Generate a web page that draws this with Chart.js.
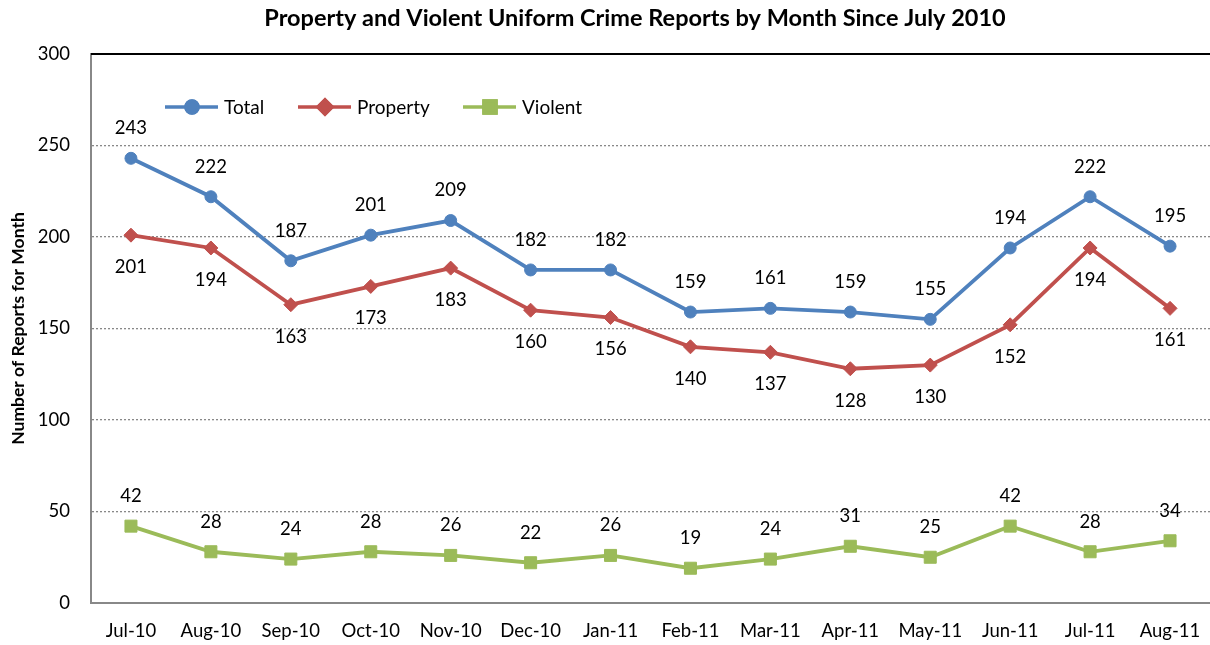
<!DOCTYPE html>
<html>
<head>
<meta charset="utf-8">
<script src="https://cdn.jsdelivr.net/npm/chart.js@4/dist/chart.umd.min.js"></script>
<style>
  body { margin: 0; background: #fff; overflow: hidden; }
  #wrap { width: 1210px; height: 645px; }
</style>
</head>
<body>
<div id="wrap"><canvas id="crime" width="1210" height="645"></canvas></div>
<script>
const months = ["Jul-10", "Aug-10", "Sep-10", "Oct-10", "Nov-10", "Dec-10", "Jan-11",
  "Feb-11", "Mar-11", "Apr-11", "May-11", "Jun-11", "Jul-11", "Aug-11"];
const totalReports = [243, 222, 187, 201, 209, 182, 182, 159, 161, 159, 155, 194, 222, 195];
const propertyReports = [201, 194, 163, 173, 183, 160, 156, 140, 137, 128, 130, 152, 194, 161];
const violentReports = [42, 28, 24, 28, 26, 22, 26, 19, 24, 31, 25, 42, 28, 34];

const chartTitle = "Property and Violent Uniform Crime Reports by Month Since July 2010";
const yTitle = "Number of Reports for Month";
const FONT = "Lato, 'Open Sans', sans-serif";

// labels above or below each line
const labelOffset = { Total: -30, Property: 32, Violent: -30 };

const extras = {
  id: "extras",
  afterDatasetsDraw(chart) {
    const ctx = chart.ctx;
    const area = chart.chartArea;
    ctx.save();

    // top border of plot
    ctx.strokeStyle = "#000";
    ctx.lineWidth = 2;
    ctx.beginPath();
    ctx.moveTo(area.left, area.top);
    ctx.lineTo(chart.width, area.top);
    ctx.stroke();

    // value labels
    ctx.fillStyle = "#000";
    ctx.font = "18.5px " + FONT;
    ctx.textAlign = "center";
    ctx.textBaseline = "middle";
    chart.data.datasets.forEach((ds, i) => {
      const meta = chart.getDatasetMeta(i);
      meta.data.forEach((pt, j) => {
        ctx.fillText(String(ds.data[j]), pt.x, pt.y + labelOffset[ds.label]);
      });
    });

    // legend inside plot
    const legendX = [165, 298, 463];
    ctx.font = "19px " + FONT;
    chart.data.datasets.forEach((ds, i) => {
      const x0 = legendX[i], y = 107;
      ctx.strokeStyle = ds.borderColor;
      ctx.lineWidth = 3.5;
      ctx.beginPath();
      ctx.moveTo(x0, y);
      ctx.lineTo(x0 + 53, y);
      ctx.stroke();
      Chart.helpers.drawPoint(ctx, {
        pointStyle: ds.pointStyle, radius: ds.pointRadius, rotation: 0, borderWidth: 1
      }, x0 + 27, y);
      ctx.fillStyle = ds.borderColor;
      ctx.strokeStyle = ds.borderColor;
      ctx.fill();
      ctx.stroke();
      ctx.fillStyle = "#000";
      ctx.textAlign = "left";
      ctx.fillText(ds.label, x0 + 59, y + 1);
    });

    // chart title
    ctx.font = "bold 23.5px " + FONT;
    ctx.textAlign = "center";
    ctx.fillText(chartTitle, 635, 18);

    // y axis title
    ctx.translate(18, (area.top + area.bottom) / 2);
    ctx.rotate(-Math.PI / 2);
    ctx.font = "bold 17.5px " + FONT;
    ctx.fillText(yTitle, 0, 0);
    ctx.restore();
  }
};

const series = [
  { label: "Total", data: totalReports, color: "#4F81BD", style: "circle", r: 6 },
  { label: "Property", data: propertyReports, color: "#C0504D", style: "rectRot", r: 7 },
  { label: "Violent", data: violentReports, color: "#9BBB59", style: "rect", r: 8.5 }
];

new Chart(document.getElementById("crime"), {
  type: "line",
  data: {
    labels: months,
    datasets: series.map(s => ({
      label: s.label,
      data: s.data,
      borderColor: s.color,
      backgroundColor: s.color,
      borderWidth: 3.8,
      pointStyle: s.style,
      pointRadius: s.r,
      pointHoverRadius: s.r,
      pointBorderWidth: 1,
      tension: 0,
      clip: false
    }))
  },
  options: {
    responsive: false,
    animation: false,
    events: [],
    layout: { autoPadding: false, padding: { top: 54, right: 0, left: 0, bottom: 0 } },
    plugins: { legend: { display: false }, title: { display: false }, tooltip: { enabled: false } },
    scales: {
      x: {
        offset: true,
        grid: { display: false, drawTicks: true, tickLength: 17 },
        border: { color: "#888", width: 2 },
        ticks: { color: "#000", font: { family: FONT, size: 18.5 }, padding: 0, maxRotation: 0, autoSkip: false },
        afterFit(scale) { scale.height = 42; }
      },
      y: {
        min: 0,
        max: 300,
        ticks: { stepSize: 50, color: "#000", font: { family: FONT, size: 18.5 }, padding: 21 },
        grid: {
          drawTicks: false,
          lineWidth: 1.3,
          color: ctx => (ctx.tick && ctx.tick.value === 300) ? "rgba(0,0,0,0)" : "#888"
        },
        border: { color: "#888", width: 2, dash: [2, 2] },
        afterFit(scale) { scale.width = 91; }
      }
    }
  },
  plugins: [extras]
});
</script>
</body>
</html>
